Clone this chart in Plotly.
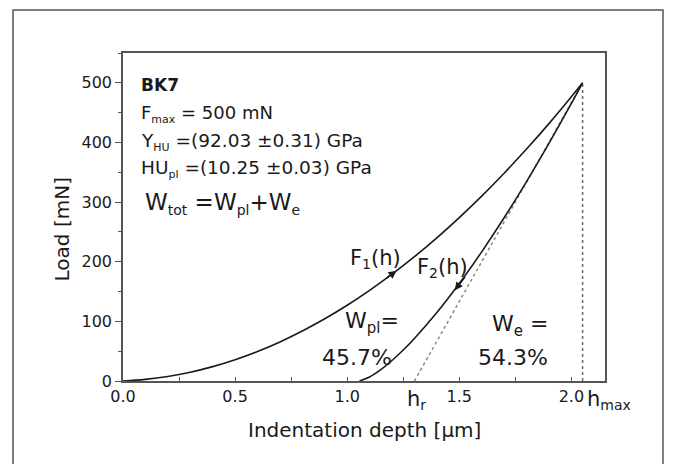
import plotly.graph_objects as go

# Loading curve F1(h)
load_h = [0, 0.1, 0.2, 0.3, 0.4, 0.5, 0.6, 0.7, 0.8, 0.9, 1.0, 1.1, 1.2, 1.3, 1.4, 1.5, 1.6, 1.7, 1.8, 1.9, 2.0, 2.05]
load_F = [0, 2.7, 7.6, 14.7, 24.1, 35.7, 49.5, 65.5, 83.8, 104.3, 127, 152, 179.1, 208.5, 240.1, 274, 310, 348.4, 388.9, 431.6, 476.6, 500]

# Unloading curve F2(h)
unload_h = [1.055, 1.1, 1.15, 1.2, 1.25, 1.3, 1.4, 1.5, 1.6, 1.7, 1.8, 1.9, 2.0, 2.05]
unload_F = [0, 6.8, 19.1, 34.4, 51.9, 71.3, 114.7, 163.4, 216.6, 273.7, 334.4, 398.4, 465.4, 500]

# Tangent at unloading start and h_max marker
tangent_h = [1.30, 2.05]
tangent_F = [0, 500]
hmax_h = [2.05, 2.05]
hmax_F = [0, 500]

x_ticks = [0.0, 0.5, 1.0, 1.5, 2.0]
x_ticktext = ["0.0", "0.5", "1.0", "1.5", "2.0"]
y_ticks = [0, 100, 200, 300, 400, 500]

FONT = "DejaVu Sans"
INK = "#1a1a1a"

def sub(s, size):
    return "<sub><span style='font-size:%dpx'>%s</span></sub>" % (size, s)

fig = go.Figure()
fig.add_trace(go.Scatter(x=tangent_h, y=tangent_F, mode="lines",
                         line=dict(color="#888888", width=1.5, dash="dot"), showlegend=False))
fig.add_trace(go.Scatter(x=hmax_h, y=hmax_F, mode="lines",
                         line=dict(color="#666666", width=1.5, dash="dot"), showlegend=False))
fig.add_trace(go.Scatter(x=load_h, y=load_F, mode="lines", line_shape="spline",
                         line=dict(color=INK, width=1.6), showlegend=False))
fig.add_trace(go.Scatter(x=unload_h, y=unload_F, mode="lines", line_shape="spline",
                         line=dict(color=INK, width=1.6), showlegend=False))

ann = []
def txt(x, y, s, size, xanchor="left", yanchor="middle", xref="x", yref="y", angle=0):
    ann.append(dict(x=x, y=y, xref=xref, yref=yref, text=s, showarrow=False,
                    xanchor=xanchor, yanchor=yanchor, textangle=angle,
                    font=dict(family=FONT, size=size, color=INK)))

txt(0.071, 496, "<b>BK7</b>", 17)
txt(0.071, 447, "F" + sub("max", 11) + " = 500 mN", 18)
txt(0.071, 401, "Y" + sub("HU", 11) + " =(92.03 ±0.31) GPa", 18.5)
txt(0.071, 356, "HU" + sub("pl", 11) + " =(10.25 ±0.03) GPa", 18.5)
txt(0.088, 298, "W" + sub("tot", 14) + " =W" + sub("pl", 14) + "+W" + sub("e", 14), 23)
txt(1.003, 205, "F" + sub("1", 14) + "(h)", 21)
txt(1.302, 190, "F" + sub("2", 14) + "(h)", 21)
txt(0.981, 98, "W" + sub("pl", 15) + "=", 22)
txt(0.878, 40, "45.7%", 22)
txt(1.636, 93, "W" + sub("e", 15) + " =", 22)
txt(1.574, 40, "54.3%", 22)
txt(1.257, -0.012, "h" + sub("r", 14), 21, yanchor="top", yref="paper")
txt(2.062, -0.012, "h" + sub("max", 14), 21, yanchor="top", yref="paper")
txt(0.502, -0.149, "Indentation depth [µm]", 20, xanchor="center", xref="paper", yref="paper")
txt(-0.1266, 0.462, "Load [mN]", 20, xanchor="center", xref="paper", yref="paper", angle=-90)

# direction arrows on curves
ann.append(dict(x=1.22, y=185, ax=1.17, ay=171, xref="x", yref="y", axref="x", ayref="y",
                text="", showarrow=True, arrowhead=2, arrowsize=1, arrowwidth=1.6, arrowcolor=INK))
ann.append(dict(x=1.48, y=152, ax=1.53, ay=177, xref="x", yref="y", axref="x", ayref="y",
                text="", showarrow=True, arrowhead=2, arrowsize=1, arrowwidth=1.6, arrowcolor=INK))

fig.update_layout(
    width=665, height=456,
    margin=dict(l=115, r=68, t=45, b=83),
    paper_bgcolor="white", plot_bgcolor="white",
    font=dict(family=FONT, size=16, color=INK),
    annotations=ann,
    shapes=[dict(type="rect", xref="paper", yref="paper",
                 x0=-0.2282, x1=1.1203, y0=-0.30, y1=1.1311,
                 line=dict(color="#555555", width=1.5))],
)
fig.update_xaxes(range=[0, 2.15], tickvals=x_ticks, ticktext=x_ticktext,
                 ticks="inside", ticklen=4, tickwidth=1, tickcolor="#555555",
                 minor=dict(dtick=0.25, tick0=0, ticks="inside", ticklen=4, tickcolor="#555555"),
                 showline=True, linecolor="#555555", linewidth=1.5, mirror=True,
                 showgrid=False, zeroline=False, tickfont=dict(size=16, color=INK))
fig.update_yaxes(range=[0, 550], tickvals=y_ticks,
                 ticks="outside", ticklen=6, tickwidth=1, tickcolor="#555555",
                 minor=dict(dtick=50, tick0=0, ticks="outside", ticklen=3, tickcolor="#555555"),
                 showline=True, linecolor="#555555", linewidth=1.5, mirror=True,
                 showgrid=False, zeroline=False, tickfont=dict(size=16, color=INK))

fig.write_html("out.html")
